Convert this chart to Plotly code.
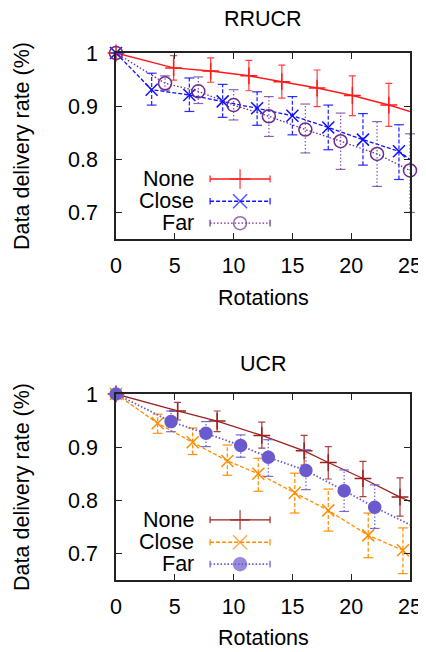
import plotly.graph_objects as go

# ---------------- data ----------------
# RRUCR panel
rr_none_x  = [0, 4.9, 8.05, 11.3, 14.1, 17.1, 20.1, 23.2, 26.3]
rr_none_y  = [1.0, 0.972, 0.966, 0.957, 0.946, 0.934, 0.920, 0.902, 0.881]
rr_none_hi = [1.0, 0.995, 0.991, 0.986, 0.977, 0.968, 0.957, 0.943, 0.92]
rr_none_lo = [1.0, 0.949, 0.945, 0.929, 0.915, 0.899, 0.882, 0.862, 0.84]

rr_close_x  = [0, 3.03, 6.24, 9.07, 12.0, 15.0, 18.05, 21.0, 24.06, 27.1]
rr_close_y  = [1.0, 0.931, 0.921, 0.909, 0.896, 0.882, 0.860, 0.837, 0.815, 0.765]
rr_close_hi = [1.0, 0.962, 0.953, 0.941, 0.927, 0.918, 0.902, 0.886, 0.865, 0.82]
rr_close_lo = [1.0, 0.902, 0.890, 0.879, 0.864, 0.846, 0.818, 0.789, 0.762, 0.71]

rr_far_x  = [0, 4.17, 7.0, 10.0, 13.0, 16.1, 19.1, 22.2, 25.0]
rr_far_y  = [1.0, 0.943, 0.928, 0.902, 0.881, 0.856, 0.834, 0.810, 0.779]
rr_far_hi = [1.0, 0.957, 0.955, 0.931, 0.918, 0.904, 0.887, 0.871, 0.848]
rr_far_lo = [1.0, 0.930, 0.905, 0.874, 0.843, 0.812, 0.781, 0.749, 0.700]

# UCR panel
u_none_x  = [0, 5.24, 8.6, 12.4, 16.0, 18.05, 21.0, 24.15, 27.2]
u_none_y  = [1.0, 0.968, 0.949, 0.922, 0.893, 0.871, 0.841, 0.806, 0.777]
u_none_hi = [1.0, 0.984, 0.968, 0.947, 0.922, 0.901, 0.873, 0.842, 0.81]
u_none_lo = [1.0, 0.951, 0.929, 0.898, 0.866, 0.840, 0.807, 0.770, 0.74]

u_close_x  = [0, 3.54, 6.52, 9.47, 12.1, 15.2, 18.05, 21.45, 24.4]
u_close_y  = [1.0, 0.945, 0.909, 0.874, 0.850, 0.814, 0.781, 0.734, 0.706]
u_close_hi = [1.0, 0.962, 0.936, 0.904, 0.879, 0.851, 0.821, 0.776, 0.748]
u_close_lo = [1.0, 0.926, 0.886, 0.847, 0.817, 0.776, 0.742, 0.692, 0.662]

u_far_x  = [0, 4.68, 7.65, 10.6, 12.95, 16.15, 19.4, 22.0, 26.0]
u_far_y  = [1.0, 0.948, 0.926, 0.903, 0.881, 0.856, 0.818, 0.787, 0.743]
u_far_hi = [1.0, 0.968, 0.948, 0.923, 0.914, 0.895, 0.857, 0.829, 0.79]
u_far_lo = [1.0, 0.929, 0.901, 0.881, 0.845, 0.820, 0.779, 0.747, 0.70]

series_names = ["None", "Close", "Far"]
panel_titles = ["RRUCR", "UCR"]
x_tick_vals = [0, 5, 10, 15, 20, 25]
y_tick_vals = [0.7, 0.8, 0.9, 1.0]
y_tick_text = ["0.7", "0.8", "0.9", "1"]
X_MAX = 25

FONT = "Liberation Sans, Arial, sans-serif"
FS = 21.5

DASH = "4px,2px"
DOT = "1.5px,2px"

fig = go.Figure()

def add_series(xs, ys, hi, lo, xa, ya, color, dash, width, symbol, msize, errcolor):
    # full connecting line (clipped by the axis range)
    fig.add_trace(go.Scatter(x=xs, y=ys, mode="lines", xaxis=xa, yaxis=ya,
                             line=dict(color=color, width=width, dash=dash),
                             showlegend=False, hoverinfo="skip"))
    idx = [i for i, v in enumerate(xs) if v <= X_MAX]
    px = [xs[i] for i in idx]
    py = [ys[i] for i in idx]
    if dash == "solid":
        err = dict(type="data", symmetric=False,
                   array=[hi[i] - ys[i] for i in idx],
                   arrayminus=[ys[i] - lo[i] for i in idx],
                   color=errcolor, thickness=1.2, width=3.5)
    else:
        # error bars drawn in the series' own dash style
        ex, ey = [], []
        for i in idx:
            ex += [xs[i], xs[i], None]
            ey += [lo[i], hi[i], None]
        fig.add_trace(go.Scatter(x=ex, y=ey, mode="lines", xaxis=xa, yaxis=ya,
                                 line=dict(color=errcolor, width=1.3, dash=dash),
                                 showlegend=False, hoverinfo="skip"))
        fig.add_trace(go.Scatter(x=px + px, y=[hi[i] for i in idx] + [lo[i] for i in idx],
                                 mode="markers", xaxis=xa, yaxis=ya, cliponaxis=False,
                                 marker=dict(symbol="line-ew", size=7,
                                             line=dict(color=errcolor, width=1.2)),
                                 showlegend=False, hoverinfo="skip"))
        err = None
    fig.add_trace(go.Scatter(x=px, y=py, mode="markers", xaxis=xa, yaxis=ya,
                             marker=dict(symbol=symbol, size=msize, color=color,
                                         line=dict(color=color, width=1.5)),
                             cliponaxis=False, showlegend=False, error_y=err))

# top panel
add_series(rr_none_x, rr_none_y, rr_none_hi, rr_none_lo, "x", "y",
           "#ff1a1a", "solid", 1.5, "cross-thin", 12, "rgba(255,30,30,0.85)")
add_series(rr_close_x, rr_close_y, rr_close_hi, rr_close_lo, "x", "y",
           "#1010ff", DASH, 1.3, "x-thin", 12, "rgba(20,20,255,0.9)")
add_series(rr_far_x, rr_far_y, rr_far_hi, rr_far_lo, "x", "y",
           "#6a2c91", DOT, 1.3, "circle-open", 13, "rgba(120,70,170,0.85)")
# bottom panel
add_series(u_none_x, u_none_y, u_none_hi, u_none_lo, "x2", "y2",
           "#9b1f1f", "solid", 1.3, "cross-thin", 12, "rgba(155,31,31,0.85)")
add_series(u_close_x, u_close_y, u_close_hi, u_close_lo, "x2", "y2",
           "#ff8c00", DASH, 1.3, "x-thin", 12, "rgba(255,140,0,0.95)")
add_series(u_far_x, u_far_y, u_far_hi, u_far_lo, "x2", "y2",
           "#6a5acd", DOT, 1.8, "circle", 12, "rgba(106,90,205,0.9)")

# ---------------- custom gnuplot-style legend ----------------
leg_rows = [0.323, 0.203, 0.085]
leg_x = [0.32, 0.422, 0.524]
leg_text_x = 0.272
legend_styles = {
    ("x3", "y3"): [("#ff1a1a", "solid", 1.5, "cross-thin", 14),
                   ("#1010ff", DASH, 1.3, "x-thin", 14),
                   ("#6a2c91", DOT, 1.3, "circle-open", 13)],
    ("x4", "y4"): [("#9b1f1f", "solid", 1.3, "cross-thin", 14),
                   ("#ff8c00", DASH, 1.3, "x-thin", 14),
                   ("#6a5acd", DOT, 1.8, "circle", 13)],
}
for (xa, ya), styles in legend_styles.items():
    for row, name, (col, dash, w, sym, ms) in zip(leg_rows, series_names, styles):
        fig.add_trace(go.Scatter(
            x=leg_x, y=[row] * 3, mode="lines+markers", xaxis=xa, yaxis=ya,
            line=dict(color=col, width=w, dash=dash),
            marker=dict(symbol=sym, size=[0, ms, 0], color=col,
                        line=dict(color=col, width=1.5)),
            error_y=dict(type="data", array=[0.018, 0, 0.018], color=col,
                         thickness=1.2, width=0),
            cliponaxis=False, showlegend=False, hoverinfo="skip"))

annotations = []
for xd, yd in [("x domain", "y domain"), ("x2 domain", "y2 domain")]:
    for row, name in zip(leg_rows, series_names):
        annotations.append(dict(text=name, xref=xd, yref=yd, x=leg_text_x, y=row,
                                xanchor="right", yanchor="middle", showarrow=False,
                                font=dict(family=FONT, size=FS, color="#000")))

# titles & axis titles (paper coords)
TOP_D = [0.647, 1.0]
BOT_D = [0.0, 0.353]
def txt(text, x, y, angle=0):
    return dict(text=text, xref="paper", yref="paper", x=x, y=y,
                xanchor="center", yanchor="middle", textangle=angle, showarrow=False,
                font=dict(family=FONT, size=FS, color="#000"))
annotations += [
    txt(panel_titles[0], 0.5, 1.0645),
    txt(panel_titles[1], 0.5, 0.41),
    txt("Rotations", 0.5, 0.535),
    txt("Rotations", 0.5, -0.11),
    txt("Data delivery rate (%)", -0.32, 0.8235, -90),
    txt("Data delivery rate (%)", -0.32, 0.1765, -90),
]

xcommon = dict(range=[0, X_MAX], tickvals=x_tick_vals, ticks="inside", ticklen=6,
               tickcolor="#222", tickwidth=1, showline=True, linecolor="#222",
               linewidth=1.5, mirror="allticks", showgrid=False, zeroline=False,
               tickfont=dict(family=FONT, size=FS, color="#000"),
               ticklabelstandoff=6, automargin=False)
ycommon = dict(range=[0.65, 1.0], tickvals=y_tick_vals, ticktext=y_tick_text,
               ticks="inside", ticklen=6, tickcolor="#222", tickwidth=1,
               showline=True, linecolor="#222", linewidth=1.5, mirror="allticks",
               showgrid=False, zeroline=False,
               tickfont=dict(family=FONT, size=FS, color="#000"),
               ticklabelstandoff=12, automargin=False)
hidden = dict(range=[0, 1], visible=False, showgrid=False, zeroline=False,
              automargin=False)

# page body has an 8px margin, so the figure is offset by 8px
fig.update_layout(
    width=418, height=644, autosize=False,
    margin=dict(l=108, r=16, t=45, b=72, autoexpand=False),
    paper_bgcolor="white", plot_bgcolor="white",
    showlegend=False,
    xaxis=dict(**xcommon, domain=[0, 1], anchor="y"),
    yaxis=dict(**ycommon, domain=TOP_D, anchor="x"),
    xaxis2=dict(**xcommon, domain=[0, 1], anchor="y2"),
    yaxis2=dict(**ycommon, domain=BOT_D, anchor="x2"),
    xaxis3=dict(**hidden, overlaying="x", anchor="y3"),
    yaxis3=dict(**hidden, overlaying="y", anchor="x3"),
    xaxis4=dict(**hidden, overlaying="x2", anchor="y4"),
    yaxis4=dict(**hidden, overlaying="y2", anchor="x4"),
    annotations=annotations,
)

fig.write_html("out.html")
